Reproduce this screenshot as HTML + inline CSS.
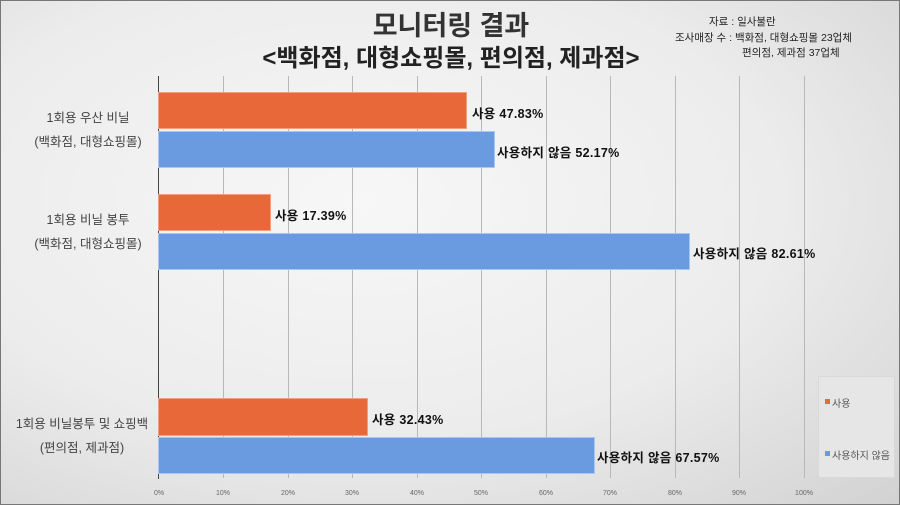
<!DOCTYPE html>
<html><head><meta charset="utf-8"><style>
body{margin:0;width:900px;height:505px;overflow:hidden;font-family:"Liberation Sans","Noto Sans CJK KR",sans-serif}
#c{position:absolute;left:0;top:0;width:898px;height:503px;border:1px solid #777;background:radial-gradient(ellipse at 40% 40%,#f7f7f7 0%,#ececec 55%,#d2d2d2 100%)}
.a{position:absolute}
.g{position:absolute;top:75px;height:402px;width:1px;background:#b8b8b8}
.bar{position:absolute;left:157px}
.o{background:#e8683a;border:1px solid #f3a07a;box-sizing:border-box}
.b{background:#6a9be0;border:1px solid #a9c6f0;box-sizing:border-box}
.lbl{position:absolute;font-size:12.5px;font-weight:bold;color:#111;white-space:nowrap;letter-spacing:0.3px}
.t{position:absolute;font-size:7px;color:#666;transform:translateX(-50%)}
.cat{position:absolute;font-size:12.5px;color:#444;text-align:center;width:160px;line-height:24px}
</style></head><body><div id="c">
<div class="a" style="left:0;width:900px;top:3px;text-align:center;font-size:27px;font-weight:bold;color:#333">모니터링 결과</div>
<div class="a" style="left:0;width:900px;top:37px;text-align:center;font-size:24px;font-weight:bold;color:#222">&lt;백화점, 대형쇼핑몰, 편의점, 제과점&gt;</div>
<div class="a" style="left:708px;top:13px;font-size:10.5px;color:#222">자료 : 일사불란</div>
<div class="a" style="left:674px;top:29px;font-size:10.5px;color:#222">조사매장 수 : 백화점, 대형쇼핑몰 23업체</div>
<div class="a" style="left:741px;top:44px;font-size:10.5px;color:#222">편의점, 제과점 37업체</div>
<div class="g" style="left:222px"></div><div class="g" style="left:287px"></div><div class="g" style="left:351px"></div><div class="g" style="left:416px"></div><div class="g" style="left:480px"></div><div class="g" style="left:545px"></div><div class="g" style="left:609px"></div><div class="g" style="left:674px"></div><div class="g" style="left:738px"></div><div class="g" style="left:803px"></div>
<div class="a" style="left:157px;top:75px;width:1px;height:403px;background:#444"></div>
<div class="bar o" style="top:91px;height:37px;width:309px"></div>
<div class="bar b" style="top:130px;height:37px;width:337px"></div>
<div class="bar o" style="top:193px;height:37px;width:113px"></div>
<div class="bar b" style="top:232px;height:37px;width:532px"></div>
<div class="bar o" style="top:397px;height:38px;width:210px"></div>
<div class="bar b" style="top:436px;height:37px;width:437px"></div>
<div class="lbl" style="left:471px;top:102px">사용 47.83%</div>
<div class="lbl" style="left:496px;top:141px">사용하지 않음 52.17%</div>
<div class="lbl" style="left:274px;top:204px">사용 17.39%</div>
<div class="lbl" style="left:692px;top:242px">사용하지 않음 82.61%</div>
<div class="lbl" style="left:371px;top:408px">사용 32.43%</div>
<div class="lbl" style="left:596px;top:446px">사용하지 않음 67.57%</div>
<div class="cat" style="left:7px;top:105px">1회용 우산 비닐<br>(백화점, 대형쇼핑몰)</div>
<div class="cat" style="left:7px;top:207px">1회용 비닐 봉투<br>(백화점, 대형쇼핑몰)</div>
<div class="cat" style="left:1px;top:411px">1회용 비닐봉투 및 쇼핑백<br>(편의점, 제과점)</div>
<div class="t" style="left:158px;top:489px">0%</div><div class="t" style="left:222px;top:489px">10%</div><div class="t" style="left:287px;top:489px">20%</div><div class="t" style="left:351px;top:489px">30%</div><div class="t" style="left:416px;top:489px">40%</div><div class="t" style="left:480px;top:489px">50%</div><div class="t" style="left:545px;top:489px">60%</div><div class="t" style="left:609px;top:489px">70%</div><div class="t" style="left:674px;top:489px">80%</div><div class="t" style="left:738px;top:489px">90%</div><div class="t" style="left:803px;top:489px">100%</div>
<div class="a" style="left:817px;top:375px;width:75px;height:100px;background:#e6e6e6;border:1px solid #d8d8d8"></div>
<div class="a" style="left:824px;top:398px;width:5px;height:5px;background:#e8683a"></div>
<div class="a" style="left:831px;top:394px;font-size:10px;color:#555">사용</div>
<div class="a" style="left:824px;top:450px;width:5px;height:5px;background:#6a9be0"></div>
<div class="a" style="left:831px;top:446px;font-size:10px;color:#555">사용하지 않음</div>
</div></body></html>
